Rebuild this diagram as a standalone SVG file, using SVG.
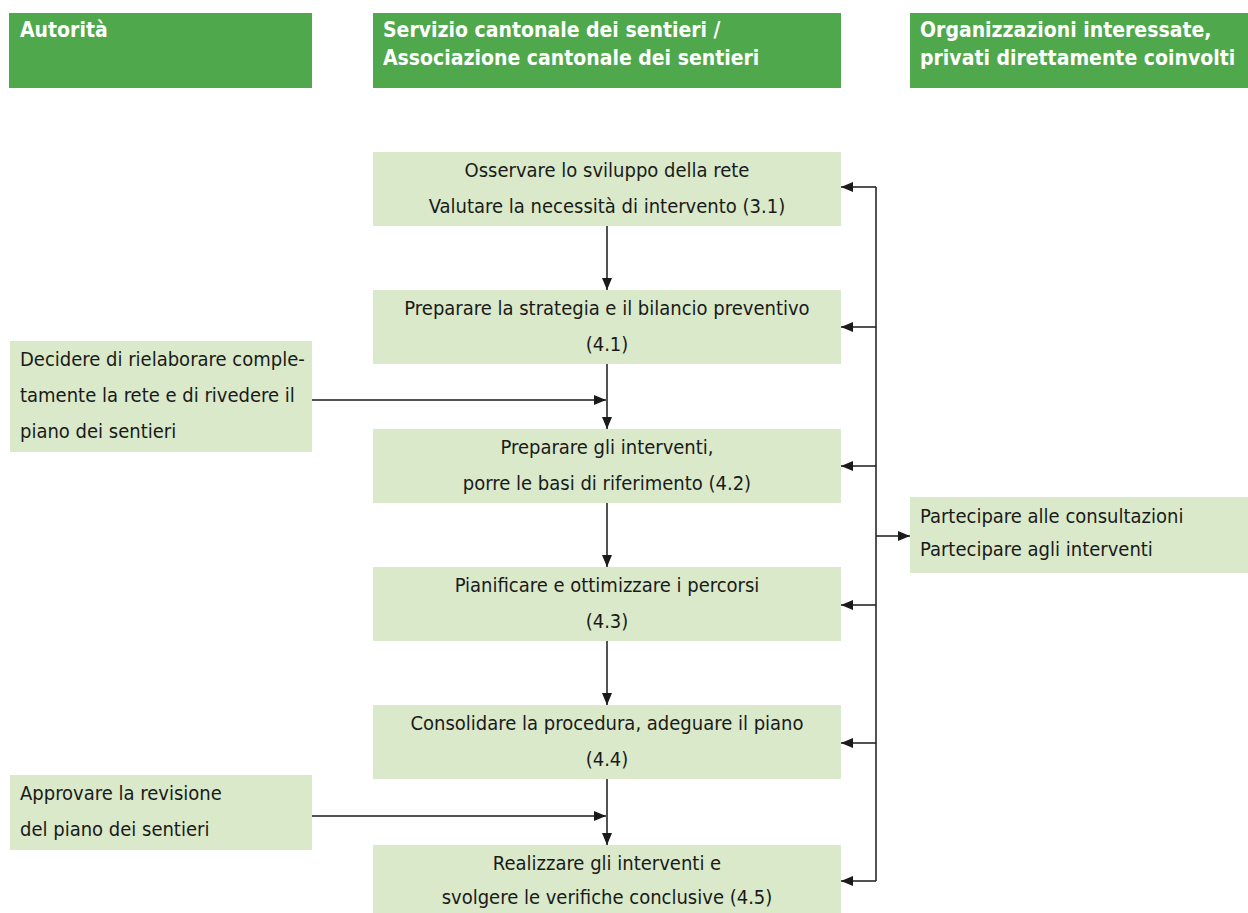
<svg xmlns="http://www.w3.org/2000/svg" width="1248" height="913" viewBox="0 0 1248 913">
  <defs>
    <style>
      .hdr { fill: #4fa84c; }
      .box { fill: #d9e9c9; }
      .htxt { font-family: "Liberation Sans Narrow", "DejaVu Sans Condensed", "Liberation Sans", sans-serif; font-weight: bold; font-size: 21px; fill: #ffffff; }
      .txt { font-family: "Liberation Sans Narrow", "DejaVu Sans Condensed", "Liberation Sans", sans-serif; font-size: 20px; fill: #1a1a1a; }
      .c { text-anchor: middle; }
      .ln { stroke: #1a1a1a; stroke-width: 1.5; fill: none; }
    </style>
    <marker id="ah" viewBox="0 0 12 10" refX="12" refY="5" markerWidth="12" markerHeight="10" markerUnits="userSpaceOnUse" orient="auto">
      <path d="M0,0 L12,5 L0,10 Z" fill="#1a1a1a"/>
    </marker>
  </defs>

  <rect width="1248" height="913" fill="#ffffff"/>

  <!-- column headers -->
  <g id="hdr-autorita">
    <rect class="hdr" x="9" y="13" width="303" height="75"/>
    <text class="htxt" x="20" y="37">Autorità</text>
  </g>
  <g id="hdr-servizio">
    <rect class="hdr" x="373" y="13" width="468" height="75"/>
    <text class="htxt" x="383" y="37">Servizio cantonale dei sentieri /</text>
    <text class="htxt" x="383" y="65">Associazione cantonale dei sentieri</text>
  </g>
  <g id="hdr-organizzazioni">
    <rect class="hdr" x="910" y="13" width="338" height="75"/>
    <text class="htxt" x="920" y="37">Organizzazioni interessate,</text>
    <text class="htxt" x="920" y="65">privati direttamente coinvolti</text>
  </g>

  <!-- process steps -->
  <g id="step-3-1">
    <rect class="box" x="373" y="152" width="468" height="74"/>
    <text class="txt c" x="607" y="177">Osservare lo sviluppo della rete</text>
    <text class="txt c" x="607" y="213">Valutare la necessità di intervento (3.1)</text>
  </g>
  <g id="step-4-1">
    <rect class="box" x="373" y="290" width="468" height="74"/>
    <text class="txt c" x="607" y="315">Preparare la strategia e il bilancio preventivo</text>
    <text class="txt c" x="607" y="351">(4.1)</text>
  </g>
  <g id="step-4-2">
    <rect class="box" x="373" y="429" width="468" height="74"/>
    <text class="txt c" x="607" y="454">Preparare gli interventi,</text>
    <text class="txt c" x="607" y="490">porre le basi di riferimento (4.2)</text>
  </g>
  <g id="step-4-3">
    <rect class="box" x="373" y="567" width="468" height="74"/>
    <text class="txt c" x="607" y="592">Pianificare e ottimizzare i percorsi</text>
    <text class="txt c" x="607" y="628">(4.3)</text>
  </g>
  <g id="step-4-4">
    <rect class="box" x="373" y="705" width="468" height="74"/>
    <text class="txt c" x="607" y="730">Consolidare la procedura, adeguare il piano</text>
    <text class="txt c" x="607" y="766">(4.4)</text>
  </g>
  <g id="step-4-5">
    <rect class="box" x="373" y="845" width="468" height="68"/>
    <text class="txt c" x="607" y="870">Realizzare gli interventi e</text>
    <text class="txt c" x="607" y="904">svolgere le verifiche conclusive (4.5)</text>
  </g>

  <!-- authority decisions -->
  <g id="decide-revision">
    <rect class="box" x="10" y="341" width="302" height="111"/>
    <text class="txt" x="20" y="366">Decidere di rielaborare comple-</text>
    <text class="txt" x="20" y="402">tamente la rete e di rivedere il</text>
    <text class="txt" x="20" y="438">piano dei sentieri</text>
  </g>
  <g id="approve-revision">
    <rect class="box" x="10" y="775" width="302" height="75"/>
    <text class="txt" x="20" y="800">Approvare la revisione</text>
    <text class="txt" x="20" y="836">del piano dei sentieri</text>
  </g>

  <!-- stakeholders -->
  <g id="participate">
    <rect class="box" x="910" y="497" width="338" height="76"/>
    <text class="txt" x="920" y="523">Partecipare alle consultazioni</text>
    <text class="txt" x="920" y="556">Partecipare agli interventi</text>
  </g>

  <!-- connectors -->
  <g id="connectors">
    <line class="ln" x1="607" y1="226" x2="607" y2="290" marker-end="url(#ah)"/>
    <line class="ln" x1="607" y1="364" x2="607" y2="429" marker-end="url(#ah)"/>
    <line class="ln" x1="607" y1="503" x2="607" y2="567" marker-end="url(#ah)"/>
    <line class="ln" x1="607" y1="641" x2="607" y2="705" marker-end="url(#ah)"/>
    <line class="ln" x1="607" y1="779" x2="607" y2="845" marker-end="url(#ah)"/>

    <line class="ln" x1="312" y1="400" x2="606" y2="400" marker-end="url(#ah)"/>
    <line class="ln" x1="312" y1="816" x2="606" y2="816" marker-end="url(#ah)"/>

    <line class="ln" x1="876" y1="187" x2="876" y2="881"/>
    <line class="ln" x1="876" y1="187" x2="841" y2="187" marker-end="url(#ah)"/>
    <line class="ln" x1="876" y1="327" x2="841" y2="327" marker-end="url(#ah)"/>
    <line class="ln" x1="876" y1="466" x2="841" y2="466" marker-end="url(#ah)"/>
    <line class="ln" x1="876" y1="605" x2="841" y2="605" marker-end="url(#ah)"/>
    <line class="ln" x1="876" y1="743" x2="841" y2="743" marker-end="url(#ah)"/>
    <line class="ln" x1="876" y1="881" x2="841" y2="881" marker-end="url(#ah)"/>
    <line class="ln" x1="876" y1="536" x2="910" y2="536" marker-end="url(#ah)"/>
  </g>
</svg>
